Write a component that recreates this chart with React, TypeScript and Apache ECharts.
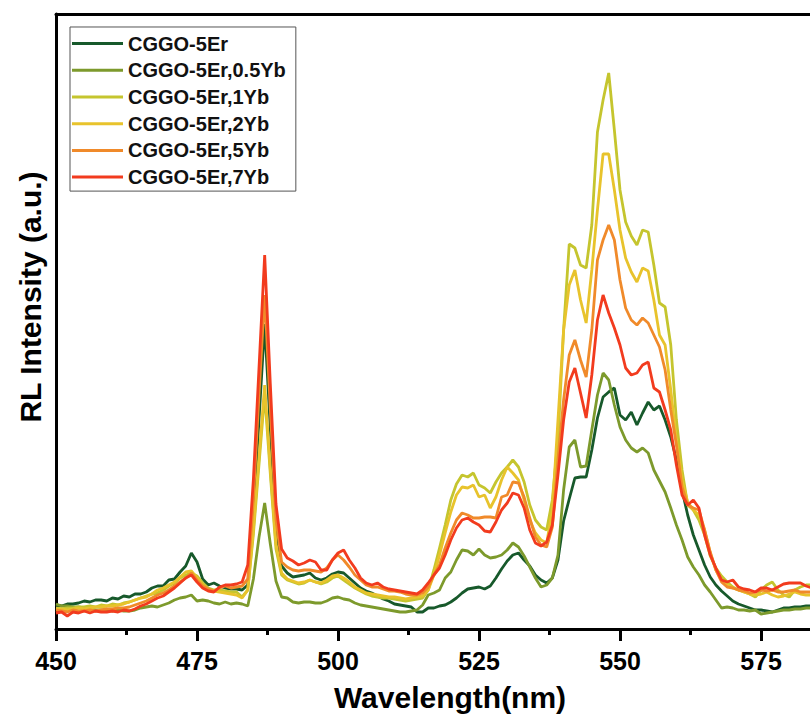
import React, { useEffect, useRef } from "react";
import * as echarts from "echarts";

const wavelength = [
  450, 451, 452, 453, 454, 455, 456, 457, 458, 459,
  460, 461, 462, 463, 464, 465, 466, 467, 468, 469,
  470, 471, 472, 473, 474, 475, 476, 477, 478, 479,
  480, 481, 482, 483, 484, 485, 486, 487, 488, 489,
  490, 491, 492, 493, 494, 495, 496, 497, 498, 499,
  500, 501, 502, 503, 504, 505, 506, 507, 508, 509,
  510, 511, 512, 513, 514, 515, 516, 517, 518, 519,
  520, 521, 522, 523, 524, 525, 526, 527, 528, 529,
  530, 531, 532, 533, 534, 535, 536, 537, 538, 539,
  540, 541, 542, 543, 544, 545, 546, 547, 548, 549,
  550, 551, 552, 553, 554, 555, 556, 557, 558, 559,
  560, 561, 562, 563, 564, 565, 566, 567, 568, 569,
  570, 571, 572, 573, 574, 575, 576, 577, 578, 579,
  580, 581, 582, 583, 584,
];

const seriesNames = [
  "CGGO-5Er",
  "CGGO-5Er,0.5Yb",
  "CGGO-5Er,1Yb",
  "CGGO-5Er,2Yb",
  "CGGO-5Er,5Yb",
  "CGGO-5Er,7Yb",
];

const seriesColors = ["#17592b", "#7d9a2c", "#c5c52e", "#e8c32c", "#f08a2a", "#f23b1e"];

const xTicks = [450, 475, 500, 525, 550, 575];

const er = [
  24, 23, 25, 25, 26, 28, 27, 29, 29, 28,
  31, 30, 33, 32, 35, 35, 37, 41, 43, 43,
  49, 50, 57, 63, 76, 67, 50, 44, 46, 43,
  41, 40, 40, 39, 44, 115, 210, 305, 200, 100,
  63, 56, 52, 53, 54, 56, 51, 49, 51, 55,
  57, 56, 51, 46, 41, 38, 36, 33, 30, 28,
  25, 24, 23, 22, 17, 17, 21, 21, 23, 24,
  27, 31, 36, 40, 41, 42, 40, 43, 51, 60,
  68, 74, 76, 69, 63, 54, 49, 46, 51, 69,
  108, 130, 151, 152, 152, 179, 211, 232, 237, 241,
  214, 209, 217, 204, 216, 227, 219, 223, 209, 192,
  169, 139, 114, 94, 79, 64, 52, 44, 38, 33,
  28, 25, 23, 21, 19, 19, 18, 17, 19, 21,
  21, 22, 22, 23, 23,
];

const yb05 = [
  25, 23, 23, 22, 22, 21, 20, 19, 19, 19,
  18, 19, 18, 18, 19, 21, 22, 23, 22, 24,
  26, 29, 31, 32, 34, 28, 29, 28, 26, 25,
  27, 25, 26, 25, 23, 50, 92, 126, 85, 48,
  32, 31, 27, 26, 27, 27, 26, 26, 28, 31,
  32, 30, 29, 26, 24, 23, 22, 21, 20, 19,
  18, 17, 17, 18, 19, 24, 34, 36, 39, 51,
  57, 69, 79, 78, 74, 80, 74, 71, 72, 74,
  79, 86, 82, 73, 62, 51, 42, 44, 51, 74,
  139, 182, 189, 162, 163, 199, 234, 256, 249, 224,
  202, 189, 181, 177, 181, 176, 159, 148, 137, 121,
  104, 89, 72, 62, 54, 44, 37, 29, 21, 22,
  21, 19, 19, 18, 19, 15, 16, 17, 18, 19,
  19, 20, 20, 21, 21,
];

const yb1 = [
  21, 20, 21, 21, 22, 22, 23, 22, 24, 23,
  25, 24, 26, 27, 29, 31, 33, 35, 36, 39,
  43, 46, 51, 54, 56, 53, 46, 41, 39, 39,
  38, 37, 37, 32, 39, 95, 165, 235, 155, 80,
  54, 49, 47, 45, 46, 49, 47, 45, 47, 51,
  53, 49, 45, 41, 38, 35, 33, 32, 31, 31,
  30, 29, 28, 29, 30, 31, 39, 59, 81, 104,
  129, 145, 154, 152, 156, 144, 141, 136, 147, 156,
  162, 169, 162, 147, 124, 109, 102, 99, 129, 189,
  299, 385, 381, 364, 361, 404, 497, 529, 556, 499,
  439, 407, 393, 384, 399, 397, 364, 326, 322, 284,
  209, 159, 124, 119, 109, 94, 73, 61, 53, 47,
  42, 39, 37, 35, 32, 39, 44, 47, 39, 34,
  32, 39, 42, 44, 44,
];

const yb2 = [
  20, 20, 19, 20, 21, 20, 21, 22, 22, 23,
  23, 24, 25, 27, 29, 31, 32, 35, 39, 41,
  44, 47, 52, 57, 58, 51, 44, 39, 38, 37,
  36, 35, 34, 31, 39, 100, 172, 244, 160, 85,
  56, 50, 48, 46, 47, 49, 47, 46, 49, 53,
  54, 51, 47, 42, 39, 36, 35, 34, 33, 32,
  32, 31, 30, 31, 32, 33, 39, 54, 74, 96,
  117, 134, 142, 141, 144, 132, 134, 121, 132, 149,
  162, 156, 149, 129, 109, 96, 89, 86, 119, 209,
  299, 344, 359, 329, 306, 359, 419, 475, 475, 439,
  399, 371, 357, 347, 361, 358, 329, 294, 284, 239,
  189, 149, 127, 119, 114, 99, 76, 59, 49, 44,
  41, 39, 37, 35, 34, 35, 37, 34, 32, 33,
  35, 37, 35, 34, 34,
];

const yb5 = [
  19, 18, 17, 19, 18, 18, 19, 18, 19, 20,
  20, 21, 21, 22, 24, 26, 28, 31, 34, 36,
  39, 43, 47, 51, 56, 49, 43, 40, 38, 41,
  43, 41, 42, 43, 50, 130, 235, 334, 220, 110,
  67, 62, 59, 58, 59, 59, 58, 57, 61, 69,
  74, 69, 62, 54, 49, 44, 42, 42, 40, 38,
  38, 37, 35, 34, 34, 36, 42, 54, 64, 81,
  96, 109, 116, 114, 111, 111, 112, 112, 111, 132,
  134, 147, 146, 132, 111, 92, 84, 82, 102, 169,
  229, 274, 289, 269, 252, 299, 369, 389, 404, 389,
  349, 321, 309, 304, 311, 306, 294, 282, 259, 219,
  184, 142, 124, 121, 119, 99, 77, 59, 47, 42,
  41, 39, 38, 36, 37, 39, 38, 39, 37, 37,
  38, 39, 37, 37, 37,
];

const yb7 = [
  16, 17, 13, 17, 16, 18, 16, 18, 17, 17,
  18, 17, 19, 18, 20, 23, 25, 28, 31, 33,
  37, 41, 46, 51, 54, 47, 41, 38, 37, 42,
  44, 44, 45, 47, 64, 150, 262, 374, 245, 125,
  80, 71, 68, 64, 66, 69, 67, 59, 59, 69,
  76, 79, 69, 61, 51, 46, 44, 46, 42, 40,
  39, 38, 37, 36, 35, 39, 46, 54, 61, 74,
  89, 101, 109, 111, 107, 104, 98, 97, 107, 119,
  126, 136, 134, 121, 99, 86, 83, 87, 104, 154,
  209, 247, 261, 236, 211, 254, 309, 334, 316, 301,
  284, 261, 254, 256, 264, 267, 241, 237, 219, 199,
  164, 134, 124, 129, 121, 94, 74, 61, 49, 47,
  49, 42, 40, 39, 37, 41, 41, 39, 42, 45,
  46, 46, 46, 43, 41,
];

const allSeries = [er, yb05, yb1, yb2, yb5, yb7];

const FONT = "'Liberation Sans', Arial, Helvetica, sans-serif";

export default function App() {
  const ref = useRef<HTMLDivElement>(null);

  useEffect(() => {
    if (!ref.current) return;
    const chart = echarts.init(ref.current, null, { renderer: "svg" });
    const axisLineStyle = { color: "#000", width: 3 };
    chart.setOption({
      animation: false,
      backgroundColor: "#ffffff",
      grid: { left: 56, top: 14, right: 0, bottom: 88, containLabel: false },
      legend: {
        orient: "vertical",
        left: 70,
        top: 27,
        icon: "rect",
        itemWidth: 51,
        itemHeight: 3,
        itemGap: 4.7,
        padding: [5.6, 10, 3, 2],
        borderColor: "#555",
        borderWidth: 1,
        backgroundColor: "#fff",
        data: seriesNames,
        textStyle: {
          fontFamily: FONT,
          fontWeight: "bold",
          fontSize: 20,
          lineHeight: 22,
          color: "#111",
        },
      },
      xAxis: [
        {
          type: "value",
          position: "bottom",
          min: 450,
          max: 600,
          interval: 25,
          axisLine: { show: true, onZero: false, lineStyle: axisLineStyle },
          axisTick: { show: true, inside: false, length: 12, lineStyle: { color: "#000", width: 3 } },
          minorTick: { show: true, splitNumber: 2, length: 6, lineStyle: { color: "#000", width: 3 } },
          splitLine: { show: false },
          minorSplitLine: { show: false },
          axisLabel: {
            margin: 19,
            fontFamily: FONT,
            fontWeight: "bold",
            fontSize: 25,
            color: "#000",
            formatter: (v: number) => (xTicks.indexOf(v) >= 0 ? String(v) : ""),
          },
        },
        {
          type: "value",
          position: "top",
          min: 450,
          max: 600,
          axisLine: { show: true, onZero: false, lineStyle: axisLineStyle },
          axisTick: { show: false },
          axisLabel: { show: false },
          splitLine: { show: false },
        },
      ],
      yAxis: {
        type: "value",
        min: 0,
        max: 615,
        axisLine: { show: true, onZero: false, lineStyle: axisLineStyle },
        axisTick: { show: false },
        axisLabel: { show: false },
        splitLine: { show: false },
      },
      graphic: [
        {
          type: "text",
          x: 450,
          y: 697,
          style: {
            text: "Wavelength(nm)",
            textAlign: "center",
            textVerticalAlign: "middle",
            font: `bold 30px ${FONT}`,
            fill: "#000",
          },
        },
        {
          type: "text",
          x: 30,
          y: 297,
          rotation: Math.PI / 2,
          style: {
            text: "RL Intensity (a.u.)",
            textAlign: "center",
            textVerticalAlign: "middle",
            font: `bold 30px ${FONT}`,
            fill: "#000",
          },
        },
      ],
      series: seriesNames.map((name, i) => ({
        name,
        type: "line",
        xAxisIndex: 0,
        showSymbol: false,
        symbol: "none",
        clip: true,
        lineStyle: { color: seriesColors[i], width: 2.8 },
        itemStyle: { color: seriesColors[i] },
        data: wavelength.map((w, k) => [w, allSeries[i][k]]),
      })),
    });
    return () => chart.dispose();
  }, []);

  return (
    <div
      style={{
        position: "absolute",
        left: 0,
        top: 0,
        width: 810,
        height: 717,
        overflow: "hidden",
        background: "#fff",
      }}
    >
      <div ref={ref} style={{ width: 905, height: 717 }} />
    </div>
  );
}
